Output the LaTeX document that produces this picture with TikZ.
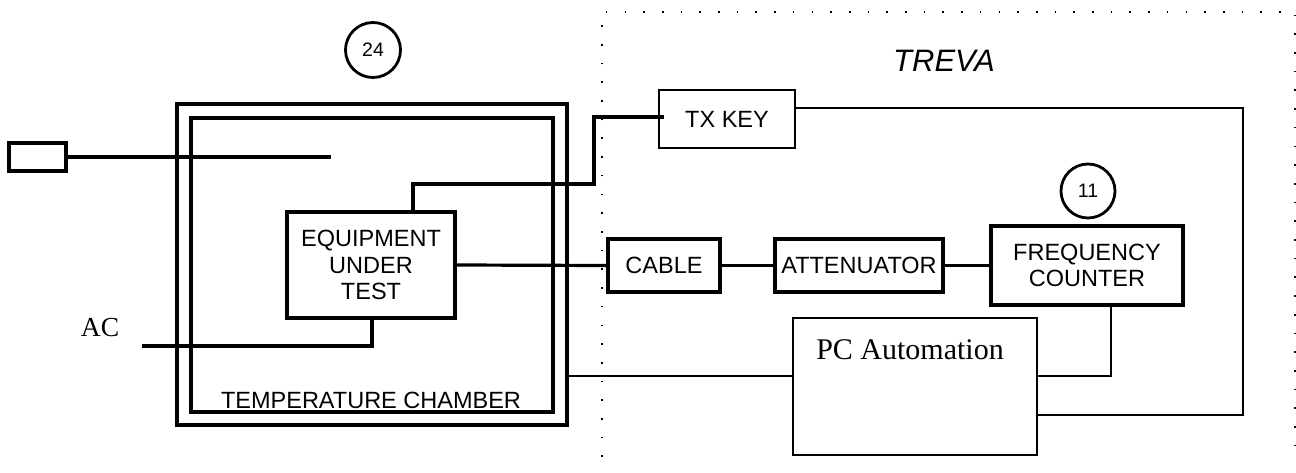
\documentclass[tikz,border=0pt]{standalone}
\usepackage{fontspec}
\setmainfont{Liberation Serif}
\setsansfont{Liberation Sans}
\begin{document}
\begin{tikzpicture}[x=1pt,y=-1pt,
  thickline/.style={line width=3.2pt},
  thinline/.style={line width=1.3pt},
  sansfont/.style={font=\sffamily\fontsize{23.5}{26.5}\selectfont},
  thickbox/.style={draw,thickline,sansfont,inner sep=0pt,align=center},
  thinbox/.style={draw,thinline,sansfont,inner sep=0pt,align=center},
  numcircle/.style={draw,circle,line width=2.8pt,inner sep=0pt,font=\sffamily\fontsize{19.5}{22}\selectfont},
  dotline/.style={line width=1.6pt,dash pattern=on 1.6pt off 17.1pt},
]
\useasboundingbox (0,0) rectangle (1296,473);

% dotted TREVA region
\draw[dotline] (602,457) -- (602,12) -- (1295,12) -- (1295,460);
\node[font=\sffamily\itshape\fontsize{31}{34}\selectfont] (treva) at (944,61) {TREVA};

% chamber
\node[draw,thickline,minimum width=390pt,minimum height=321pt,inner sep=0pt] (outer) at (372,264.5) {};
\node[draw,thickline,minimum width=362pt,minimum height=294pt,inner sep=0pt] (inner) at (372,265) {};
\node[sansfont,inner sep=0pt] (tclabel) at (371,400) {TEMPERATURE CHAMBER};
\node[numcircle,minimum size=55pt] (c24) at (373,50) {24};

% plug
\node[draw,thickline,minimum width=57pt,minimum height=28pt,inner sep=0pt] (plug) at (37.5,157) {};
\coordinate (wireend) at (331,157);
\draw[thickline] (plug.east) -- (wireend);

% equipment
\node[thickbox,minimum width=168pt,minimum height=106pt] (eut) at (371,265) {EQUIPMENT\\UNDER\\TEST};

% AC
\node[font=\fontsize{27.5}{30}\selectfont,inner sep=0pt] (ac) at (100,328) {AC};
\coordinate (acend) at (142,346);
\draw[thickline] (acend) -| ([xshift=1pt]eut.south);

% TX KEY
\node[thinbox,minimum width=136pt,minimum height=58pt] (txkey) at (727,119) {TX KEY};
\coordinate (bend1) at (413,184);
\coordinate (bend2) at (594,184);
\coordinate (txin) at ([xshift=6pt,yshift=2pt]txkey.west);
\draw[thickline] ([xshift=42pt]eut.north) -- (bend1) -- (bend2) |- (txin);

% chain
\node[thickbox,minimum width=112pt,minimum height=53pt] (cable) at (664,265.5) {CABLE};
\node[thickbox,minimum width=168pt,minimum height=53pt] (att) at (859,265.5) {ATTENUATOR};
\node[thickbox,minimum width=192pt,minimum height=79pt] (fc) at (1087,265.5) {FREQUENCY\\COUNTER};
\node[numcircle,minimum size=54pt] (c11) at (1088,191) {11};
\draw[thickline] (eut.east) -- (cable.west);
\draw[thickline] (cable.east) -- (att.west);
\draw[thickline] (att.east) -- (fc.west);

% PC
\node[draw,thinline,minimum width=244pt,minimum height=137pt,inner sep=0pt] (pc) at (915,386.5) {};
\node[font=\fontsize{30}{33}\selectfont,inner sep=0pt] (pctext) at (910,350) {PC Automation};
\coordinate (pcl) at ([yshift=10.5pt]pc.west);
\draw[thinline] (pcl) -- ([xshift=-4pt]pcl -| outer.east);
\coordinate (pcr1) at ([yshift=10.5pt]pc.east);
\draw[thinline] (pcr1) -| ([xshift=24pt]fc.south);
\coordinate (pcr2) at ([yshift=-28.5pt]pc.east);
\coordinate (txr) at ([yshift=11pt]txkey.east);
\coordinate (rc) at (1243,108);
\draw[thinline] (txr) -- (rc) |- (pcr2);
\end{tikzpicture}
\end{document}
